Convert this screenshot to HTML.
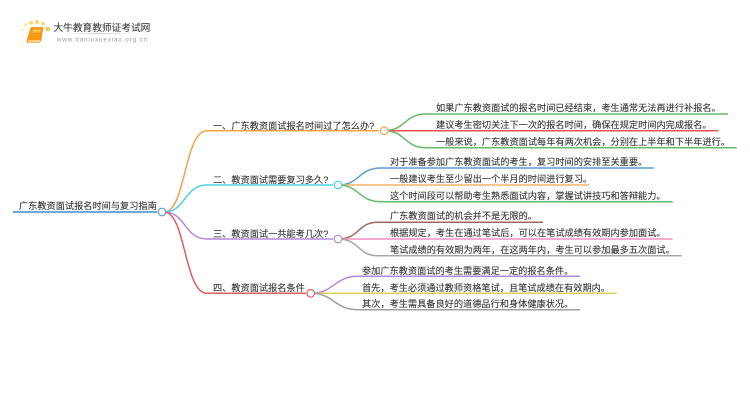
<!DOCTYPE html>
<html><head><meta charset="utf-8"><style>
html,body{margin:0;padding:0;background:#fff;width:750px;height:410px;overflow:hidden}
svg{display:block}
text{font-family:"Liberation Sans","Noto Sans CJK SC",sans-serif;font-size:9.2px;fill:#333;stroke:#333;stroke-width:0.1px}
path{fill:none;stroke-width:1.5}
circle{fill:#fff;stroke-width:1.2}
</style></head><body>
<svg width="750" height="410" viewBox="0 0 750 410">
<defs>
<filter id="b" x="-5%" y="-5%" width="110%" height="110%"><feGaussianBlur stdDeviation="0.3"/></filter>
<linearGradient id="u" x1="0" x2="1" y1="0" y2="0"><stop offset="0" stop-color="#ddd" stop-opacity="0"/><stop offset="0.5" stop-color="#ccc"/><stop offset="1" stop-color="#ddd" stop-opacity="0"/></linearGradient>
</defs>
<g filter="url(#b)">
<!-- logo -->
<g>
<circle cx="22.7" cy="30" r="1.3" style="fill:#fdeeb8;stroke:none"/>
<circle cx="25.7" cy="25" r="1.7" style="fill:#fde7a5;stroke:none"/>
<circle cx="31" cy="22.7" r="2" style="fill:#fddc80;stroke:none"/>
<circle cx="37" cy="22" r="2" style="fill:#fdd468;stroke:none"/>
<circle cx="43" cy="23.5" r="1.8" style="fill:#fdd468;stroke:none"/>
<circle cx="47.7" cy="29" r="2.3" style="fill:#fcc83f;stroke:none"/>
<circle cx="22.3" cy="36" r="1.1" style="fill:#fdeeb8;stroke:none"/>
<circle cx="23.3" cy="42.7" r="0.9" style="fill:#fdeeb8;stroke:none"/>
<polygon points="31,27.5 43,27.5 41,40 39.5,42.5 27,42.5 27.5,39" style="fill:#f59a16;stroke:#f59a16;stroke-width:0.8;stroke-linejoin:round"/>
<polygon points="28.5,40 40,40 39.5,42.5 28,42.5" style="fill:#fbd08c"/>
<polygon points="33,29.5 41,29.5 40,32.5 32,32.5" style="fill:#fcc04e"/>
</g>
<text x="53.5" y="31" style="font-size:9.7px;fill:#3c3c3c;stroke:#3c3c3c">大牛教育教师证考试网</text>
<rect x="60" y="33" width="80" height="1" fill="url(#u)"/>
<text x="57" y="41.5" style="font-size:6.2px;letter-spacing:0.9px;fill:#999;stroke:none">www.daniuxuexiao.org.cn</text>
<!-- root -->
<path d="M13 212H157" stroke="#5b9bd5" style="stroke-width:1.8"/>
<path d="M164 212C186 212 184 130.7 207 130.7H379" stroke="#f9a04b"/>
<path d="M164 212C186 212 184 185 207 185H333" stroke="#4dd0e1"/>
<path d="M164 212C186 212 184 239 207 239H333" stroke="#b388d9"/>
<path d="M164 212C186 212 184 293.3 207 293.3H306" stroke="#e25b5b"/>
<!-- group 1 -->
<path d="M384 130.7C406 130.7 404 114 426 114H728" stroke="#66bb6a"/>
<path d="M384 130.7H718.7" stroke="#ef5350"/>
<path d="M384 130.7C406 130.7 404 147.7 426 147.7H736.7" stroke="#66bb6a"/>
<!-- group 2 -->
<path d="M338 185C360 185 358 168 381 168H654" stroke="#5b9bd5"/>
<path d="M338 185H589" stroke="#fbb26a"/>
<path d="M338 185C360 185 358 201.7 381 201.7H672.7" stroke="#66bb6a"/>
<!-- group 3 -->
<path d="M338 239C360 239 357 222.3 378 222.3H543" stroke="#a1665e"/>
<path d="M338 239H672.7" stroke="#f48fc1"/>
<path d="M338 239C360 239 357 255.7 378 255.7H681.7" stroke="#a6a6a6"/>
<!-- group 4 -->
<path d="M311 293.3C334 293.3 334 276.3 358 276.3H580" stroke="#b388d9"/>
<path d="M311 293.3H616.7" stroke="#d4d45a"/>
<path d="M311 293.3C334 293.3 334 309.7 358 309.7H580" stroke="#9e9e9e"/>
<!-- nodes -->
<circle cx="162" cy="212" r="3.8" stroke="#5b9bd5"/>
<circle cx="384.3" cy="130.7" r="3.8" stroke="#f9a04b"/>
<circle cx="338" cy="185" r="3.8" stroke="#4dd0e1"/>
<circle cx="338" cy="239" r="3.8" stroke="#b388d9"/>
<circle cx="310.7" cy="293.3" r="3.8" stroke="#e25b5b"/>
<!-- text -->
<text x="19" y="209">广东教资面试报名时间与复习指南</text>
<text x="213" y="129">一、广东教资面试报名时间过了怎么办?</text>
<text x="213" y="183">二、教资面试需要复习多久?</text>
<text x="213" y="237">三、教资面试一共能考几次?</text>
<text x="213" y="291">四、教资面试报名条件</text>
<text x="436" y="111">如果广东教资面试的报名时间已经结束，考生通常无法再进行补报名。</text>
<text x="436" y="128">建议考生密切关注下一次的报名时间，确保在规定时间内完成报名。</text>
<text x="436" y="145">一般来说，广东教资面试每年有两次机会，分别在上半年和下半年进行。</text>
<text x="390" y="165">对于准备参加广东教资面试的考生，复习时间的安排至关重要。</text>
<text x="390" y="182">一般建议考生至少留出一个半月的时间进行复习。</text>
<text x="390" y="199">这个时间段可以帮助考生熟悉面试内容，掌握试讲技巧和答辩能力。</text>
<text x="390" y="219">广东教资面试的机会并不是无限的。</text>
<text x="390" y="236">根据规定，考生在通过笔试后，可以在笔试成绩有效期内参加面试。</text>
<text x="390" y="253">笔试成绩的有效期为两年，在这两年内，考生可以参加最多五次面试。</text>
<text x="362" y="274">参加广东教资面试的考生需要满足一定的报名条件。</text>
<text x="362" y="291">首先，考生必须通过教师资格笔试，且笔试成绩在有效期内。</text>
<text x="362" y="307">其次，考生需具备良好的道德品行和身体健康状况。</text>
</g>
</svg>
</body></html>
